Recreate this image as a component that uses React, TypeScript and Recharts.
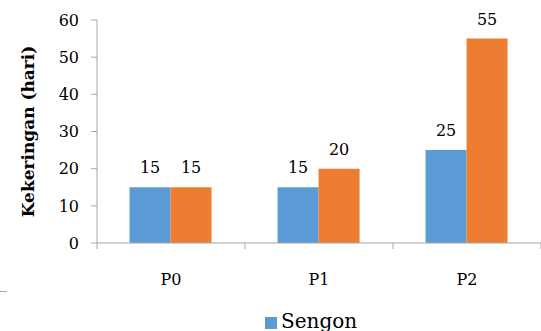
import { ReactElement } from 'react';
import { BarChart, Bar, XAxis, YAxis, Legend, LabelList } from 'recharts';

const perlakuan: string[] = ['P0', 'P1', 'P2'];
const sengon: number[] = [15, 15, 25];
const pembanding: number[] = [15, 20, 55];
const yTicks: number[] = [0, 10, 20, 30, 40, 50, 60];

interface Row {
  name: string;
  sengon: number;
  pembanding: number;
}

const data: Row[] = perlakuan.map((name, i) => ({
  name,
  sengon: sengon[i],
  pembanding: pembanding[i],
}));

const FONT = 'DejaVu Serif';
const AXIS = '#a6a6a6';
const TICK_MARGIN = 37;

// category label plus the small boundary ticks hanging under the axis
const CategoryTick = (props: any): ReactElement => {
  const { x, y, payload, index, visibleTicksCount } = props;
  const band = 148;
  const axisY = y - TICK_MARGIN;
  const left = x - band / 2;
  return (
    <g>
      <line x1={left} x2={left} y1={axisY} y2={axisY + 6} stroke={AXIS} />
      {index === visibleTicksCount - 1 && (
        <line x1={x + band / 2} x2={x + band / 2} y1={axisY} y2={axisY + 6} stroke={AXIS} />
      )}
      <text x={x} y={y} textAnchor="middle" dominantBaseline="middle" fill="#000" fontSize={16} style={{ fontFamily: FONT }}>
        {payload.value}
      </text>
    </g>
  );
};

const App = (): ReactElement => (
  <div
    style={{
      position: 'fixed',
      left: 0,
      top: 0,
      width: 541,
      height: 331,
      background: '#fff',
      overflow: 'hidden',
      fontFamily: FONT,
    }}
  >
    <BarChart
      width={541}
      height={331}
      data={data}
      margin={{ top: 20, right: 0, bottom: 0, left: 0 }}
      barCategoryGap="22%"
      barGap={0}
    >
      <XAxis
        dataKey="name"
        stroke={AXIS}
        tick={<CategoryTick />}
        tickLine={false}
        tickSize={0}
        tickMargin={TICK_MARGIN}
        height={64}
        interval={0}
      />
      <YAxis
        domain={[0, 60]}
        ticks={yTicks}
        stroke={AXIS}
        tickSize={6}
        tickMargin={12}
        tick={{ fill: '#000', fontSize: 16, style: { fontFamily: FONT } }}
        width={97}
        label={{
          value: 'Kekeringan (hari)',
          angle: -90,
          position: 'insideLeft',
          offset: 28,
          style: { textAnchor: 'middle', fontWeight: 'bold', fontSize: 17, fill: '#000', fontFamily: FONT },
        }}
      />
      <Legend
        layout="vertical"
        verticalAlign="bottom"
        align="center"
        iconType="square"
        iconSize={12}
        wrapperStyle={{ position: 'absolute', top: 309, left: 265, width: 'auto', fontSize: 20, color: '#000', fontFamily: FONT }}
        formatter={(value: string) => <span style={{ color: '#000' }}>{value}</span>}
      />
      <Bar dataKey="sengon" name="Sengon" fill="#5b9bd5" isAnimationActive={false}>
        <LabelList dataKey="sengon" position="top" offset={14} style={{ fill: '#000', fontSize: 16, fontFamily: FONT }} />
      </Bar>
      <Bar dataKey="pembanding" fill="#ed7d31" legendType="none" isAnimationActive={false}>
        <LabelList dataKey="pembanding" position="top" offset={14} style={{ fill: '#000', fontSize: 16, fontFamily: FONT }} />
      </Bar>
    </BarChart>
    <div style={{ position: 'absolute', left: 0, top: 291, width: 7, height: 1, background: AXIS }} />
  </div>
);

export default App;
